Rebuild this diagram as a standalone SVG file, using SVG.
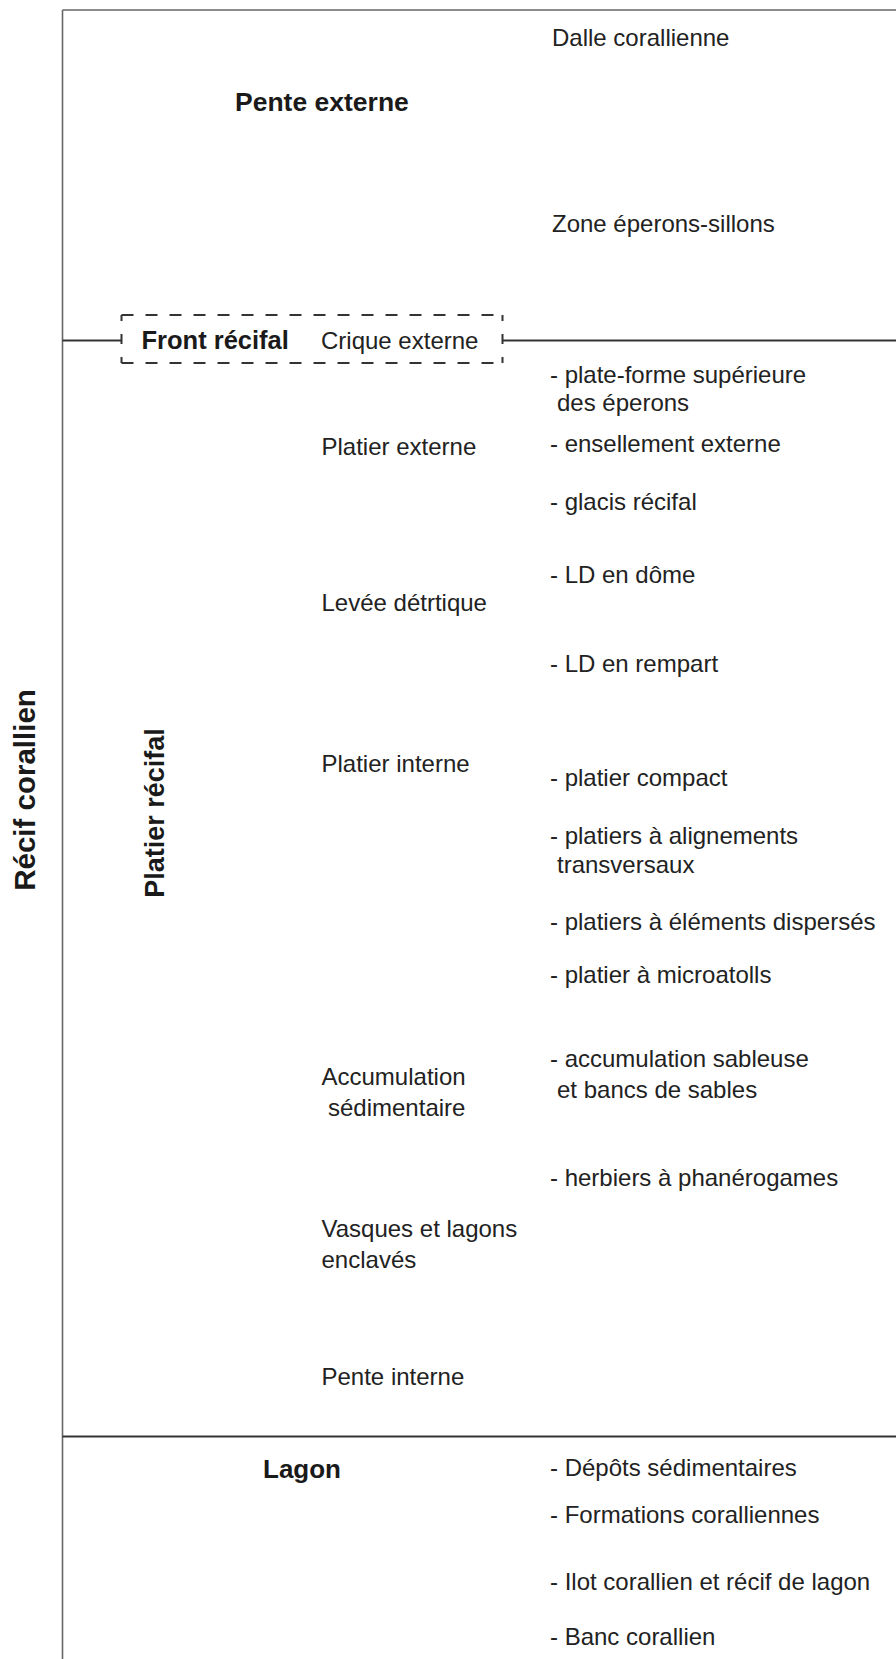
<svg xmlns="http://www.w3.org/2000/svg" width="896" height="1659" viewBox="0 0 896 1659">
<style>
.t{font-family:"Liberation Sans",Arial,sans-serif;font-size:24px;fill:#222}
.b{font-family:"Liberation Sans",Arial,sans-serif;font-weight:bold;fill:#1a1a1a}
.ln{stroke:#666;stroke-width:1.6;fill:none}
.dk{stroke:#333;stroke-width:1.8;fill:none}
.ds{stroke:#333;stroke-width:2;fill:none}
</style>
<rect width="896" height="1659" fill="#fff"/>
<g id="connectors">
<line class="ln" x1="62.5" y1="10" x2="62.5" y2="1659"/>
<line class="ln" x1="62.5" y1="10" x2="896" y2="10"/>
<line class="dk" x1="62.5" y1="340.5" x2="121.5" y2="340.5"/>
<line class="dk" x1="502.5" y1="340.5" x2="896" y2="340.5"/>
<line class="dk" x1="62.5" y1="1436.5" x2="896" y2="1436.5"/>
</g>
<g id="recif-corallien"><text class="b" font-size="29.5" transform="translate(35,790) rotate(-90)" text-anchor="middle">Récif corallien</text></g>
<g id="platier-recifal"><text class="b" font-size="27" transform="translate(164,813) rotate(-90)" text-anchor="middle">Platier récifal</text></g>
<g id="pente-externe">
<text class="b" font-size="26.5" x="235" y="111">Pente externe</text>
<text class="t" x="552" y="46">Dalle corallienne</text>
<text class="t" x="552" y="232">Zone éperons-sillons</text>
</g>
<g id="front-recifal">
<path class="ds" d="M121.5 315 H502.5" stroke-dasharray="12 12"/>
<path class="ds" d="M121.5 363 H502.5" stroke-dasharray="12 12"/>
<path class="ds" d="M121.5 315 V363" stroke-dasharray="6 13 10 13 6"/>
<path class="ds" d="M502.5 315 V363" stroke-dasharray="6 13 10 13 6"/>
<text class="b" font-size="25.5" x="141.5" y="349">Front récifal</text>
<text class="t" x="321" y="349">Crique externe</text>
</g>
<g id="platier-externe">
<text class="t" x="321.5" y="455">Platier externe</text>
<text class="t" x="550" y="382.5">- plate-forme supérieure</text>
<text class="t" x="557" y="411">des éperons</text>
<text class="t" x="550" y="452">- ensellement externe</text>
<text class="t" x="550" y="510">- glacis récifal</text>
</g>
<g id="levee-detritique">
<text class="t" x="321.5" y="611">Levée détrtique</text>
<text class="t" x="550" y="583">- LD en dôme</text>
<text class="t" x="550" y="672">- LD en rempart</text>
</g>
<g id="platier-interne">
<text class="t" x="321.5" y="772">Platier interne</text>
<text class="t" x="550" y="785.5">- platier compact</text>
<text class="t" x="550" y="844">- platiers à alignements</text>
<text class="t" x="557" y="872.5">transversaux</text>
<text class="t" x="550" y="930">- platiers à éléments dispersés</text>
<text class="t" x="550" y="983">- platier à microatolls</text>
</g>
<g id="accumulation">
<text class="t" x="321.5" y="1085">Accumulation</text>
<text class="t" x="328" y="1115.5">sédimentaire</text>
<text class="t" x="550" y="1067">- accumulation sableuse</text>
<text class="t" x="557" y="1097.5">et bancs de sables</text>
<text class="t" x="550" y="1186">- herbiers à phanérogames</text>
</g>
<g id="vasques">
<text class="t" x="321.5" y="1237">Vasques et lagons</text>
<text class="t" x="321.5" y="1268">enclavés</text>
</g>
<g id="pente-interne"><text class="t" x="321.5" y="1385">Pente interne</text></g>
<g id="lagon">
<text class="b" font-size="26" x="263" y="1478">Lagon</text>
<text class="t" x="550" y="1476">- Dépôts sédimentaires</text>
<text class="t" x="550" y="1523">- Formations coralliennes</text>
<text class="t" x="550" y="1590">- Ilot corallien et récif de lagon</text>
<text class="t" x="550" y="1645">- Banc corallien</text>
</g>
</svg>
